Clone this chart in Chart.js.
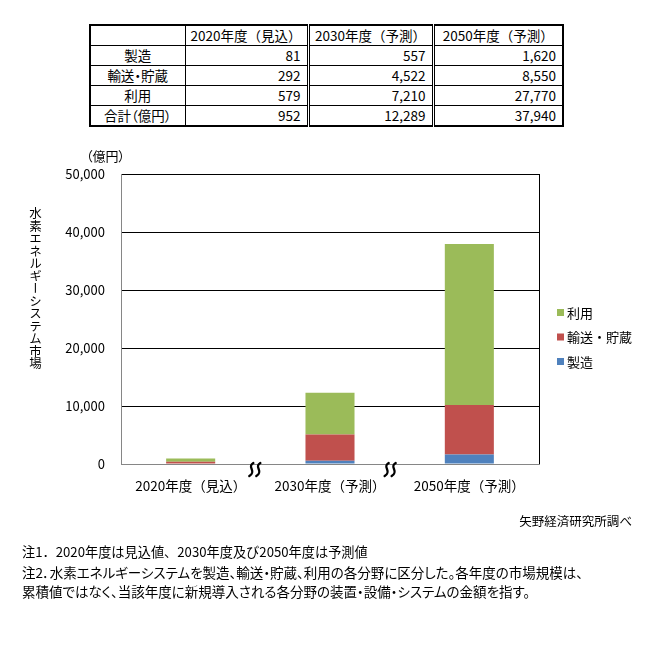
<!DOCTYPE html>
<html><head><meta charset="utf-8">
<script src="https://cdn.jsdelivr.net/npm/chart.js@4/dist/chart.umd.min.js"></script>
<style>
html,body{margin:0;padding:0;background:#fff;}
body{width:648px;height:648px;position:relative;overflow:hidden;font-family:"Noto Sans CJK JP","Noto Sans",sans-serif;color:#000;}
#cv{position:absolute;left:0;top:0;}
#tbl{position:absolute;left:89px;top:24px;border-collapse:collapse;border:2px solid #000;font-size:13.5px;table-layout:fixed;width:475px;}
#tbl td{border:1px solid #000;height:19px;padding:0;line-height:19px;white-space:nowrap;overflow:hidden;}
#tbl td.lab{text-align:center;font-feature-settings:"palt";}
#tbl td.hd{text-align:center;}
#tbl td.num{text-align:right;padding-right:6px;}
#tbl td.dbl{border-left:3px double #000;}
.txt{position:absolute;white-space:nowrap;}
.palt{font-feature-settings:"palt";}
#ytitle{position:absolute;left:27px;top:207px;writing-mode:vertical-rl;text-orientation:upright;font-size:12.5px;line-height:16px;letter-spacing:0px;}
</style>
</head><body>
<table id="tbl"><colgroup><col style="width:95px"><col style="width:123px"><col style="width:125px"><col style="width:130px"></colgroup><tbody id="tb"></tbody></table>
<canvas id="cv" width="648" height="648"></canvas>
<div class="txt palt" style="left:86px;top:146px;font-size:13px;">（億円）</div>
<div id="ytitle">水素エネルギーシステム市場</div>
<div class="txt palt" style="right:16px;top:511px;font-size:12.5px;">矢野経済研究所調べ</div>
<div class="txt" style="left:22px;top:542px;font-size:13.2px;">注1．2020年度は見込値、2030年度及び2050年度は予測値</div>
<div class="txt palt" style="left:22px;top:562px;font-size:13.5px;">注2．水素エネルギーシステムを製造、輸送・貯蔵、利用の各分野に区分した。各年度の市場規模は、</div>
<div class="txt palt" style="left:22px;top:581px;font-size:13.5px;">累積値ではなく、当該年度に新規導入される各分野の装置・設備・システムの金額を指す。</div>
<script>
const categories = ['2020年度（見込）', '2030年度（予測）', '2050年度（予測）'];
const seriesNames = ['製造', '輸送・貯蔵', '利用'];
const seizo = [81, 557, 1620];
const yuso = [292, 4522, 8550];
const riyo = [579, 7210, 27770];
const totals = [952, 12289, 37940];
const totalLabel = '合計（億円）';
const yTicks = [0, 10000, 20000, 30000, 40000, 50000];
const colors = ['#4F81BD', '#C0504D', '#9BBB59'];

// build table
const fmt = v => v.toLocaleString('en-US');
const tb = document.getElementById('tb');
function addRow(cells, cls) {
  const tr = document.createElement('tr');
  cells.forEach((c, i) => {
    const td = document.createElement('td');
    td.textContent = c;
    td.className = (i === 0 ? 'lab' : cls) + (i >= 2 ? ' dbl' : '');
    tr.appendChild(td);
  });
  tb.appendChild(tr);
}
addRow([''].concat(categories), 'hd');
const seriesVals = [seizo, yuso, riyo];
seriesNames.forEach((n, i) => addRow([n].concat(seriesVals[i].map(fmt)), 'num'));
addRow([totalLabel].concat(totals.map(fmt)), 'num');

const FF = '"Noto Sans CJK JP","Noto Sans",sans-serif';

const deco = {
  id: 'deco',
  afterDraw(chart) {
    const c = chart.ctx, a = chart.chartArea, xs = chart.scales.x;
    c.save();
    // right frame line
    c.strokeStyle = '#000'; c.lineWidth = 1;
    c.beginPath(); c.moveTo(Math.round(a.right) + 0.5, a.top); c.lineTo(Math.round(a.right) + 0.5, a.bottom); c.stroke();
    // break marks
    c.lineWidth = 2.4; c.strokeStyle = '#000'; c.lineCap = 'round';
    const offs = [-6, -10];
    for (let i = 0; i < categories.length - 1; i++) {
      const mx = (xs.getPixelForTick(i) + xs.getPixelForTick(i + 1)) / 2 + offs[i];
      const y0 = a.bottom - 1;
      for (let k = 0; k < 2; k++) {
        const x0 = mx - 3 + k * 7;
        c.beginPath();
        c.moveTo(x0 + 2, y0);
        c.bezierCurveTo(x0 - 5, y0 + 4, x0 + 6, y0 + 8, x0 - 2, y0 + 13);
        c.stroke();
      }
    }
    // legend (reverse order)
    const ys = [312.5, 337, 361.5];
    const ds = chart.data.datasets.slice().reverse();
    c.font = '13px ' + FF; c.textBaseline = 'middle'; c.fillStyle = '#000';
    ds.forEach((d, i) => {
      c.fillStyle = d.backgroundColor;
      c.fillRect(557, ys[i] - 3.5, 7, 7);
      c.fillStyle = '#000';
      c.fillText(d.label, 567, ys[i] + 0.5);
    });
    c.restore();
  }
};

new Chart(document.getElementById('cv'), {
  type: 'bar',
  data: {
    labels: categories,
    datasets: seriesNames.map((n, i) => ({ label: n, data: seriesVals[i], backgroundColor: colors[i], borderWidth: 0 }))
  },
  options: {
    responsive: false, animation: false, devicePixelRatio: 1,
    layout: { padding: { left: 0, top: 174, right: 109, bottom: 0 } },
    plugins: { legend: { display: false }, tooltip: { enabled: false } },
    datasets: { bar: { barPercentage: 0.352, categoryPercentage: 1 } },
    scales: {
      x: {
        stacked: true,
        grid: { display: false, drawTicks: false },
        border: { color: '#868686', width: 1 },
        ticks: { font: { size: 13.5, family: FF }, color: '#000', padding: 14, maxRotation: 0, autoSkip: false },
        afterFit(s) { s.height = 184; }
      },
      y: {
        stacked: true, min: 0, max: 50000,
        afterBuildTicks(s) { s.ticks = yTicks.map(v => ({ value: v })); },
        ticks: { callback: v => fmt(v), padding: 16, font: { size: 13, family: FF }, color: '#000' },
        grid: { color: ctx => ctx.tick && ctx.tick.value === 0 ? '#868686' : '#000', drawTicks: false },
        border: { color: '#868686', width: 1 },
        afterFit(s) { s.width = 121; }
      }
    }
  },
  plugins: [deco]
});
</script>
</body></html>
